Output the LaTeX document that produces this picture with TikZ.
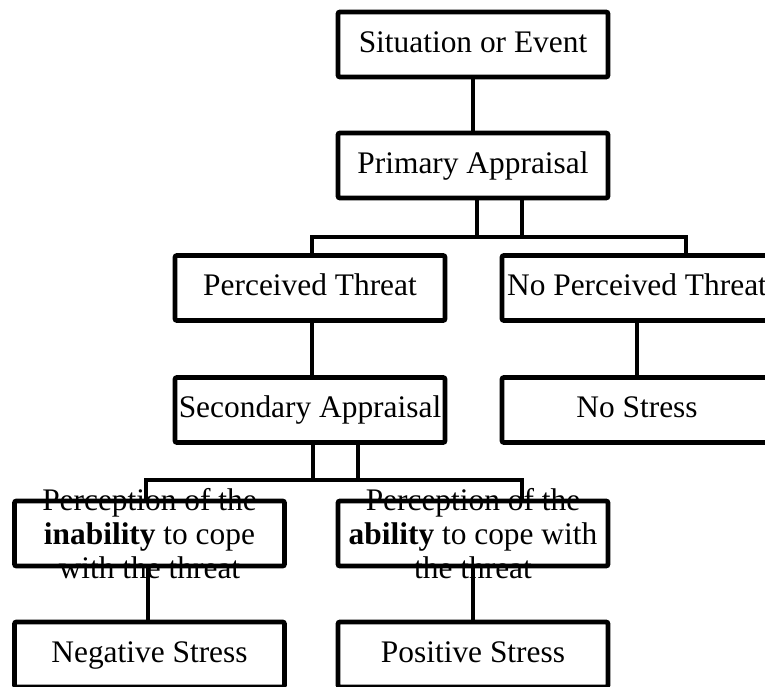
\documentclass[tikz,border=0pt]{standalone}
\usepackage{fontspec}
\setmainfont{Liberation Serif}
\usetikzlibrary{positioning}

\begin{document}
\begin{tikzpicture}[x=0.5pt,y=-0.5pt,
  font=\fontsize{15.7}{16.8}\selectfont,
  box/.style={draw,line width=2.4pt,rounded corners=1pt,minimum width=135pt,minimum height=32.5pt,
    inner sep=0pt,outer sep=0pt,text height=11pt,text depth=3.5pt,align=center},
  txt/.style={align=center,inner sep=0pt},
  link/.style={line width=2pt}]
\useasboundingbox (0,0) rectangle (765,686);
\clip (0,0) rectangle (765,686);
\node[box] (sit) at (473,44.5) {Situation or Event};
\node[box,below=28pt of sit] (prim) {Primary Appraisal};
\node[box] (pt) at (310,288) {Perceived Threat};
\node[box] (npt) at (637,288) {No Perceived Threat};
\node[box,below=28.5pt of pt] (sec) {Secondary Appraisal};
\node[box,below=28.5pt of npt] (ns) {No Stress};
\node[txt] (inabtxt) at (149.5,533.5) {Perception of the\\\textbf{inability} to cope\\with the threat};
\node[txt] (abtxt) at (473,533.5) {Perception of the\\\textbf{ability} to cope with\\the threat};
\node[box] (inab) at (inabtxt) {};
\node[box] (ab) at (abtxt) {};
\node[box,below=28pt of inab] (neg) {Negative Stress};
\node[box,below=28pt of ab] (pos) {Positive Stress};
\coordinate (pbar) at (0,237);
\coordinate (sbar) at (0,480);
\draw[link] (sit) -- (prim);
\draw[link] ([xshift=2pt]prim.south) -- ([xshift=2pt]prim.south |- pbar);
\draw[link] ([xshift=24.5pt]prim.south) -- ([xshift=24.5pt]prim.south |- pbar);
\draw[link] ([xshift=1pt]pt.north) |- ([xshift=24.5pt]npt.north |- pbar) -- ([xshift=24.5pt]npt.north);
\draw[link] ([xshift=1pt]pt.south) -- ([xshift=1pt]sec.north);
\draw[link] (npt) -- (ns);
\draw[link] ([xshift=1.5pt]sec.south) -- ([xshift=1.5pt]sec.south |- sbar);
\draw[link] ([xshift=24pt]sec.south) -- ([xshift=24pt]sec.south |- sbar);
\draw[link] ([xshift=-1.75pt]inab.north) |- ([xshift=24.5pt]ab.north |- sbar) -- ([xshift=24.5pt]ab.north);
\draw[link] ([xshift=-0.75pt]inab.south) -- ([xshift=-0.75pt]neg.north);
\draw[link] (ab) -- (pos);
\end{tikzpicture}
\end{document}
